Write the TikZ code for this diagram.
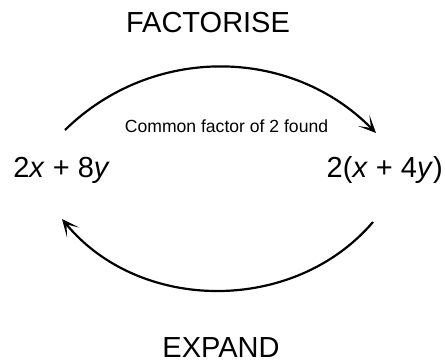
\documentclass[tikz,border=0pt]{standalone}
\usepackage{fontspec}
\setmainfont{Liberation Sans}
\usetikzlibrary{arrows.meta}
\tikzset{
    title/.style={inner sep=0pt, font=\fontsize{16.5}{20}\selectfont},
    expr/.style={inner sep=0pt, anchor=base, font=\fontsize{16.5}{20}\selectfont},
    note/.style={inner sep=0pt, font=\fontsize{10}{12}\selectfont},
    cyc/.style={line width=1.25pt, -{Stealth[length=10pt, width=9pt, inset=6pt]}}
}
\begin{document}
\begin{tikzpicture}
        \useasboundingbox (0,0) rectangle (8.9,7.26);
        \node[title] (fac) at (4.16,6.80) {FACTORISE};
        \node[title] (exp) at (4.42,0.30) {EXPAND};
        \node[expr, anchor=base west] (lhs) at (0.26,3.72) {2\textit{x} + 8\textit{y}};
        \node[expr, anchor=base east] (rhs) at (8.86,3.72) {2(\textit{x} + 4\textit{y})};
        \node[note] (cf) at (4.53,4.74) {Common factor of 2 found};
        \coordinate (a1) at (1.30,4.66);
        \coordinate (b1) at (7.52,4.60);
        \coordinate (a2) at (7.46,2.82);
        \coordinate (b2) at (1.24,2.88);

        \draw[cyc] (a1) to[bend left=45] (b1);
        \draw[cyc] (a2) to[bend left=50] (b2);
    \end{tikzpicture}
\end{document}
